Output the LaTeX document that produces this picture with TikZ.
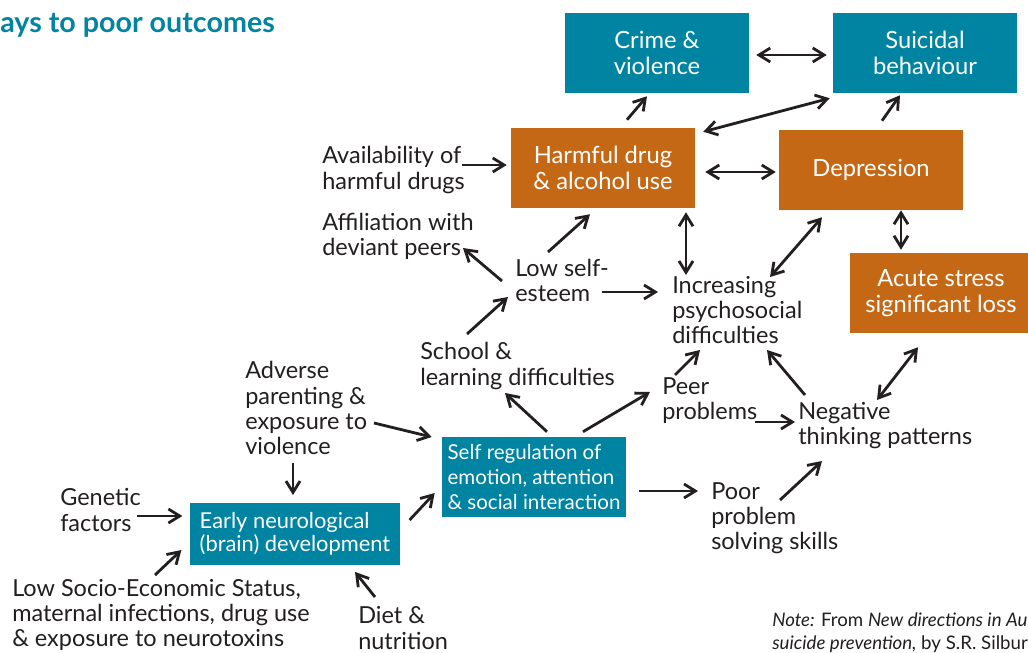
\documentclass[tikz,border=0pt]{standalone}
\usepackage{fontspec}
\setmainfont{Lato}
\usetikzlibrary{arrows.meta,calc}
\definecolor{tealb}{RGB}{0,132,161}
\definecolor{orangeb}{RGB}{197,104,22}
\definecolor{ink}{RGB}{35,31,32}
\begin{document}
\begin{tikzpicture}[x=.75pt, y=-.75pt, >={Straight Barb[length=8.5pt,width=10.5pt]},
    box/.style={minimum width=138pt, minimum height=60pt, inner sep=0pt, text=white, align=center, font=\fontsize{17.8}{19}\selectfont},
    tealbox/.style={box, fill=tealb},
    orangebox/.style={box, fill=orangeb},
    lbl/.style={anchor=west, align=left, inner sep=0pt, text=ink, font=\fontsize{17.6}{18.8}\selectfont},
    link/.style={->, line width=2.1pt, draw=ink},
    both/.style={<->, line width=2.1pt, draw=ink}]
\useasboundingbox[fill=white] (0,0) rectangle (1028,653);
\node[anchor=west, inner sep=0pt, text=tealb, font=\fontsize{21.5}{24}\selectfont\bfseries] (title) at (0,25) {ays to poor outcomes};

% outcome boxes
\node[tealbox] (crime) at (657,53) {Crime \&\\violence};
\node[tealbox] (suic) at (925,53) {Suicidal\\behaviour};
\node[orangebox] (harm) at (603,168) {Harmful drug\\\& alcohol use};
\node[orangebox] (dep) at (871,170) {Depression};
\node[orangebox, minimum width=137pt] (acute) at (941,293) {Acute stress\\significant loss};
\node[tealbox, font=\fontsize{15.4}{18.5}\selectfont, align=left] (selfreg) at (534,477) {Self regulation of\\emotion, attention\\\& social interaction};
\node[tealbox, minimum width=158pt, minimum height=46pt, font=\fontsize{16.4}{17.5}\selectfont, align=left] (early) at (295,534) {Early neurological\\(brain) development};

% factors
\node[lbl] (avail) at (322,170) {Availability of\\harmful drugs};
\node[lbl] (affil) at (322,236) {Affiliation with\\deviant peers};
\node[lbl] (low) at (515,280) {Low self-\\esteem};
\node[lbl] (incr) at (672,310) {Increasing\\psychosocial\\difficulties};
\node[lbl] (school) at (420,366) {School \&\\learning difficulties};
\node[lbl] (adverse) at (245,408) {Adverse\\parenting \&\\exposure to\\violence};
\node[lbl] (peer) at (662,401) {Peer\\problems};
\node[lbl] (neg) at (798,426) {Negative\\thinking patterns};
\node[lbl] (poor) at (711,518) {Poor\\problem\\solving skills};
\node[lbl] (gen) at (60,510) {Genetic\\factors};
\node[lbl] (ses) at (12,615) {Low Socio-Economic Status,\\maternal infections, drug use\\\& exposure to neurotoxins};
\node[lbl] (diet) at (358,628) {Diet \&\\nutrition};
\node[lbl, font=\fontsize{14}{17}\selectfont] (note) at (772,633) {\textit{Note:} From \textit{New directions in Au}\\\textit{suicide prevention,} by S.R. Silbur};

% links
\draw[both] ($(crime.east)+(7,2)$) -- ($(suic.west)+(-6,2)$);
\draw[link] ($(harm.north)+(24,-8)$) -- ($(crime.south)+(-10,3)$);
\draw[both] ($(harm.north east)+(8,4)$) -- ($(suic.south west)+(-3,5)$);
\draw[link] ($(dep.north)+(11,-9)$) -- ($(suic.south)+(-25,2)$);
\draw[both] ($(harm.east)+(10,4)$) -- ($(dep.west)+(-3,2)$);
\draw[link] ($(avail.west)+(140,-5)$) -- ($(harm.west)+(-4,-3)$);
\draw[link] ($(low.west)+(33,-28)$) -- ($(harm.south)+(-13,6)$);
\draw[link] ($(low.west)+(-13,1)$) -- ($(affil.west)+(141,12)$);
\draw[link] ($(low.west)+(87,12)$) -- ($(incr.west)+(-14,-18)$);
\draw[both] ($(incr.west)+(14,-35)$) -- ($(harm.south)+(83,4)$);
\draw[link] ($(school.west)+(47,-32)$) -- ($(low.west)+(-7,17)$);
\draw[both] ($(incr.west)+(98,-33)$) -- ($(dep.south)+(-49,7)$);
\draw[both] ($(dep.south)+(30,0)$) -- ($(acute.north)+(-40,-3)$);
\draw[link] ($(selfreg.north)+(13,-5)$) -- ($(school.west)+(85,27)$);
\draw[link] ($(selfreg.north)+(49,-5)$) -- ($(peer.west)+(-12,-9)$);
\draw[link] ($(peer.west)+(13,-26)$) -- ($(incr.west)+(28,40)$);
\draw[link] ($(neg.west)+(7,-31)$) -- ($(incr.west)+(95,40)$);
\draw[both] ($(neg.west)+(79,-26)$) -- ($(acute.south)+(-23,14)$);
\draw[link] ($(peer.west)+(93,21)$) -- ($(neg.west)+(-3,-4)$);
\draw[link] ($(selfreg.east)+(13,14)$) -- ($(poor.west)+(-13,-27)$);
\draw[link] ($(poor.west)+(69,-18)$) -- ($(neg.west)+(24,35)$);
\draw[link] ($(adverse.west)+(129,15)$) -- ($(selfreg.west)+(-10,-40)$);
\draw[link] ($(adverse.west)+(48,55)$) -- ($(early.north)+(-2,-8)$);
\draw[link] ($(gen.west)+(77,6)$) -- ($(early.west)+(-7,-18)$);
\draw[link] ($(ses.west)+(143,-40)$) -- ($(early.west)+(-8,16)$);
\draw[link] ($(diet.west)+(17,-31)$) -- ($(early.south)+(60,7)$);
\draw[link] ($(early.east)+(9,-14)$) -- ($(selfreg.west)+(-7,16)$);
\end{tikzpicture}
\end{document}
